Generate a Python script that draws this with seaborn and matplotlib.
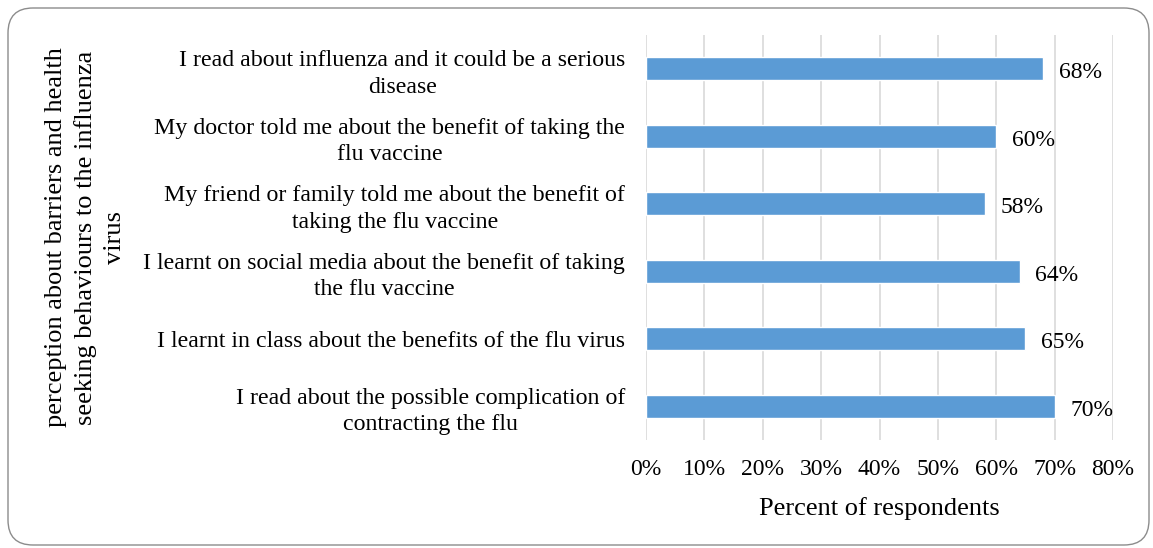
import matplotlib
matplotlib.use("Agg")
import matplotlib.pyplot as plt
import matplotlib.patches as mpatches
import matplotlib.transforms as mtransforms
import pandas as pd
import seaborn as sns
from matplotlib.ticker import PercentFormatter

# Data (top to bottom as shown)
statements = [
    "I read about influenza and it could be a serious\ndisease",
    "My doctor told me about the benefit of taking the\nflu vaccine",
    "My friend or family told me about the benefit of\ntaking the flu vaccine",
    "I learnt on social media about the benefit of taking\nthe flu vaccine",
    "I learnt in class about the benefits of the flu virus",
    "I read about the possible complication of\ncontracting the flu",
]
percent = [68, 60, 58, 64, 65, 70]
x_ticks = [0, 10, 20, 30, 40, 50, 60, 70, 80]

df = pd.DataFrame({"statement": statements, "percent": percent})

sns.set_style("white")
plt.rcParams["font.family"] = ["Liberation Serif", "DejaVu Serif"]
plt.rcParams["text.color"] = "black"
plt.rcParams["axes.labelcolor"] = "black"
plt.rcParams["xtick.color"] = "black"
plt.rcParams["ytick.color"] = "black"

fig = plt.figure(figsize=(11.53, 5.48), dpi=100)
ax = fig.add_axes([0.5603, 0.197, 0.405, 0.739])

sns.barplot(data=df, x="percent", y="statement", ax=ax, color="#5B9BD5",
            saturation=1, width=0.34, orient="h")

for bar, val in zip(ax.patches, percent):
    ax.text(bar.get_width() + 2.7, bar.get_y() + bar.get_height() / 2 + 0.06,
            f"{val}%", va="center", ha="left", fontsize=17)

ax.set_xlim(0, 80)
ax.set_xticks(x_ticks)
ax.xaxis.set_major_formatter(PercentFormatter(decimals=0))
ax.grid(axis="x", color="#d9d9d9", linewidth=1.2)
ax.set_axisbelow(True)
for s in ax.spines.values():
    s.set_visible(False)
ax.tick_params(axis="y", length=0, labelsize=17.2, pad=15)
ax.tick_params(axis="x", length=0, labelsize=17, pad=14)
for lbl in ax.get_yticklabels():
    lbl.set_multialignment("center")
    lbl.set_linespacing(1.35)

ax.set_xlabel("Percent of respondents", fontsize=19, labelpad=12)
ax.set_ylabel("perception about barriers and health\nseeking behaviours to the influenza\nvirus",
              fontsize=19, multialignment="center", va="center", linespacing=1.4)
ax.yaxis.set_label_coords(-1.2, 0.5)

# rounded frame around the whole chart
frame = mpatches.FancyBboxPatch((8, 3), 1141, 537,
                                boxstyle="round,pad=0,rounding_size=25",
                                transform=mtransforms.IdentityTransform(),
                                facecolor="none", edgecolor="#8c8c8c", linewidth=1)
fig.add_artist(frame)

fig.savefig("out.png", dpi=100)
